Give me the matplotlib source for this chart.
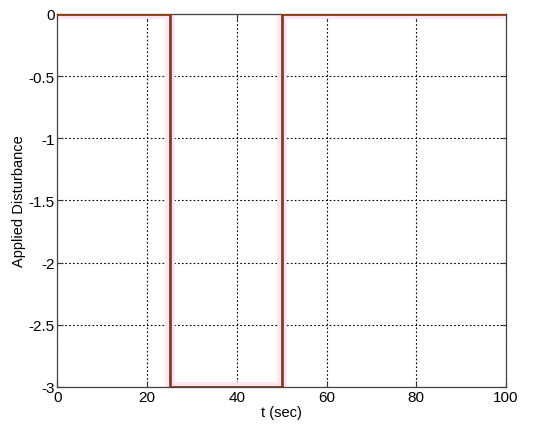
import matplotlib.pyplot as plt
import numpy as np

# Applied disturbance: step profile
t = [0, 25, 25, 50, 50, 100]
d = [0, 0, -3, -3, 0, 0]

xticks = [0, 20, 40, 60, 80, 100]
yticks = [0, -0.5, -1, -1.5, -2, -2.5, -3]

plt.rcParams['font.family'] = ['Liberation Sans', 'DejaVu Sans']

fig = plt.figure(figsize=(5.5, 4.31), dpi=100)
ax = fig.add_axes([0.1045, 0.0998, 0.8155, 0.8655])

# faint halo behind the trace, as in the source image
ax.plot(t, d, color='#fde4f4', lw=7, zorder=2, solid_joinstyle='miter')
ax.plot(t, d, color='#8b3a14', lw=2, zorder=3, solid_joinstyle='miter')

ax.set_xlim(0, 100)
ax.set_ylim(-3, 0)
ax.set_xticks(xticks)
ax.set_xticklabels([str(v) for v in xticks])
ax.set_yticks(yticks)
ax.set_yticklabels(['0', '-0.5', '-1', '-1.5', '-2', '-2.5', '-3'])
ax.tick_params(direction='in', length=4, labelsize=11, color='#333333', pad=2)
ax.tick_params(top=True, right=True)

ax.grid(True, color='black', linestyle=(0, (1.5, 2)), lw=0.8)
ax.set_axisbelow(True)
for s in ax.spines.values():
    s.set_color('#444444')
    s.set_linewidth(0.9)

ax.set_xlabel('t (sec)', fontsize=10.5, labelpad=1)
ax.set_ylabel('Applied Disturbance', fontsize=10.5, labelpad=2)

fig.savefig('out.png', dpi=100)
